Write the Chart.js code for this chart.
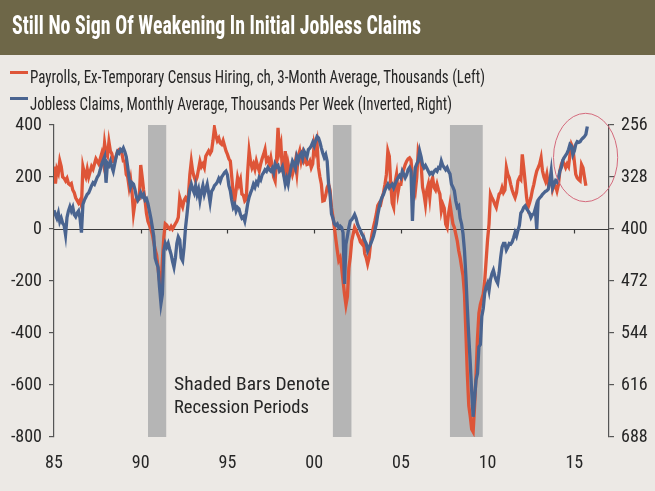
<!DOCTYPE html>
<html><head><meta charset="utf-8">
<script src="https://cdn.jsdelivr.net/npm/chart.js@4.4.1/dist/chart.umd.min.js"></script>
<style>
html,body{margin:0;padding:0;background:#ece9e5;width:655px;height:491px;overflow:hidden;}
body{position:relative;font-family:'Liberation Sans Narrow','Roboto Condensed','DejaVu Sans Condensed',Roboto,'Liberation Sans',sans-serif;color:#262626;}
#bar{position:absolute;left:0;top:0;width:655px;height:55px;background:#6e6748;}
.t{position:absolute;white-space:nowrap;line-height:1;transform-origin:0 50%;z-index:2;}
.mk{position:absolute;height:3px;z-index:2;}
canvas{position:absolute;left:0;top:0;z-index:1;}
</style></head>
<body>
<div id="bar"></div>
<canvas id="c" width="655" height="491"></canvas>
<div class="t" data-w="409" style="left:12px;top:13px;font-size:25px;font-weight:bold;color:#fff">Still No Sign Of Weakening In Initial Jobless Claims</div>
<div class="mk" style="left:10px;top:71px;width:18px;background:#de5538"></div>
<div class="t" data-w="455" style="left:30px;top:69px;font-size:17.5px">Payrolls, Ex-Temporary Census Hiring, ch, 3-Month Average, Thousands (Left)</div>
<div class="mk" style="left:10px;top:97px;width:18px;background:#4a6490"></div>
<div class="t" data-w="422" style="left:30px;top:95.5px;font-size:17.5px">Jobless Claims, Monthly Average, Thousands Per Week (Inverted, Right)</div>
<div class="t" data-w="156" style="left:174px;top:373.5px;font-size:19px">Shaded Bars Denote</div>
<div class="t" data-w="135" style="left:174px;top:396.5px;font-size:19px">Recession Periods</div>
<script>
const startYear = 1985;
const payrolls = [
240,175,230,215,262,240,200,195,185,195,175,170,
175,150,140,120,110,100,110,90,240,215,200,230,
200,220,240,230,250,270,260,250,270,290,260,330,
290,280,335,300,290,260,260,280,300,305,300,290,
261,260,210,200,160,190,140,61,100,120,110,115,
246,200,150,110,60,30,15,0,-20,-50,-80,-100,
-150,-200,-222,-120,-30,20,15,5,0,10,0,10,
20,30,45,120,100,85,110,120,110,130,210,260,
220,200,185,200,230,260,240,250,236,280,290,300,
290,300,340,389,360,340,350,330,325,340,320,300,
287,270,261,200,134,108,150,197,172,190,134,130,
108,115,220,300,260,236,250,230,261,240,223,250,
270,287,306,261,270,250,274,240,200,185,270,389,
300,325,230,210,300,200,250,220,236,210,230,260,
215,280,300,261,287,260,270,248,250,261,236,250,
325,300,330,236,200,172,108,110,130,160,172,150,
83,45,6,-40,-83,-121,-110,-146,-200,-250,-292,-260,
-150,-108,-45,-20,6,-5,-19,-32,-50,-57,-40,-95,
-110,-134,-110,-57,-20,6,30,57,90,100,95,121,
140,172,210,300,280,172,100,83,180,210,140,172,
172,210,230,248,261,270,274,265,200,170,146,200,
300,280,250,160,134,95,150,172,121,180,197,160,
150,172,150,134,70,95,80,19,6,60,95,57,
20,6,-20,-45,-83,-110,-146,-180,-250,-400,-560,-680,
-720,-770,-780,-680,-560,-420,-324,-290,-270,-250,-200,-120,
-40,20,134,120,110,95,83,110,134,140,159,140,
150,236,210,197,172,150,134,121,140,185,197,190,
287,236,180,121,83,100,121,150,172,200,223,236,
250,274,223,200,185,210,172,190,197,153,172,165,
146,170,223,248,261,250,236,250,240,287,325,312,
261,210,197,190,185,248,236,200,166];
const claims = [
374,380,385,378,390,385,392,395,408,384,375,369,
375,370,380,383,378,375,385,405,366,360,356,352,
350,345,340,336,338,333,328,325,318,310,305,300,
336,309,312,306,314,320,310,300,293,295,290,292,
288,293,300,314,330,342,336,338,345,355,360,356,
350,355,352,360,358,365,375,385,397,410,440,447,
453,480,503,490,430,420,425,420,428,435,445,453,
440,420,411,415,440,444,425,398,380,360,345,338,
345,350,340,352,345,360,348,340,352,345,338,350,
363,348,345,340,338,335,330,334,328,325,322,320,
325,340,347,360,370,366,375,370,372,380,385,383,
389,378,365,356,350,345,338,342,335,338,329,332,
325,322,318,320,315,318,320,316,322,310,314,312,
320,318,314,326,338,330,338,325,315,306,310,316,
300,306,298,295,302,292,296,300,290,288,285,280,
285,278,272,274,280,288,295,301,297,306,338,352,
379,385,393,395,393,398,396,398,405,476,421,410,
398,389,387,384,380,385,393,398,402,407,410,416,
420,430,425,421,416,410,402,393,380,370,361,356,
352,346,342,338,343,340,338,343,338,333,329,326,
329,320,324,329,325,318,315,320,389,340,315,310,
306,292,300,311,315,312,316,320,324,322,324,320,
318,320,315,316,306,312,315,318,315,320,324,338,
342,347,361,370,368,385,393,407,430,466,510,550,
585,625,660,635,609,600,563,560,521,510,489,480,
475,485,470,462,457,465,471,475,460,440,425,420,
420,429,425,420,421,418,412,405,410,402,395,378,
375,370,368,372,375,378,384,380,379,372,400,360,
357,355,352,350,348,347,345,335,320,343,338,333,
335,330,320,315,305,301,298,295,290,283,285,297,
292,283,279,280,279,276,274,272,269,258];
const recessionStart = [1990.42, 2001.08, 2007.83];
const recessionEnd = [1991.47, 2002.15, 2009.72];
const yearTicks = [1985,1990,1995,2000,2005,2010,2015];
const yearLabels = ['85','90','95','00','05','10','15'];
const leftTicks = [400,200,0,-200,-400,-600,-800];
const rightTicks = [256,328,400,472,544,616,688];
const highlight = {year:2015.65, value:275, yearRadius:1.85, valueRadius:170};

const FONT = "'Liberation Sans Narrow','Roboto Condensed','DejaVu Sans Condensed',Roboto,'Liberation Sans',sans-serif";
const TXT = '#262626';

const toXY = arr => arr.map((v,i)=>({x:startYear + i/12, y:v}));

const decor = {
  id:'decor',
  beforeDatasetsDraw(chart){
    const {ctx, chartArea:a} = chart;
    const x = chart.scales.x, y = chart.scales.y;
    ctx.save();
    ctx.fillStyle = '#b5b5b5';
    recessionStart.forEach((s,i)=>{
      const x0 = x.getPixelForValue(s), x1 = x.getPixelForValue(recessionEnd[i]);
      ctx.fillRect(x0, a.top, x1-x0, a.bottom-a.top);
    });
    const y0 = Math.round(y.getPixelForValue(0))+0.5;
    ctx.strokeStyle = '#3a3a3a'; ctx.lineWidth = 1.2;
    ctx.beginPath();
    ctx.moveTo(a.left, y0); ctx.lineTo(a.right, y0);
    yearTicks.forEach(v=>{
      if (v === startYear) return;
      const px = Math.round(x.getPixelForValue(v))+0.5;
      ctx.moveTo(px, y0); ctx.lineTo(px, y0+4);
    });
    ctx.stroke();
    ctx.restore();
  },
  afterDatasetsDraw(chart){
    const {ctx} = chart;
    const x = chart.scales.x, y = chart.scales.y;
    const cx = x.getPixelForValue(highlight.year), cy = y.getPixelForValue(highlight.value);
    const rx = Math.abs(x.getPixelForValue(highlight.year + highlight.yearRadius) - cx);
    const ry = Math.abs(y.getPixelForValue(highlight.value + highlight.valueRadius) - cy);
    ctx.save();
    ctx.strokeStyle = '#d46a7c'; ctx.lineWidth = 1;
    ctx.beginPath(); ctx.ellipse(cx, cy, rx, ry, 0, 0, Math.PI*2); ctx.stroke();
    ctx.restore();
  }
};

new Chart(document.getElementById('c'), {
  type:'line',
  data:{datasets:[
    {label:'Jobless Claims', data:toXY(claims), yAxisID:'y2', borderColor:'#4a6490', borderWidth:3.3, pointRadius:0, tension:0, fill:false},
    {label:'Payrolls', data:toXY(payrolls), yAxisID:'y', borderColor:'#de5538', borderWidth:3.3, pointRadius:0, tension:0, fill:false}
  ]},
  options:{
    responsive:false, animation:false, devicePixelRatio:1,
    layout:{padding:{top:125,left:0,right:0,bottom:0}},
    plugins:{legend:{display:false}, tooltip:{enabled:false}, title:{display:false}},
    scales:{
      x:{type:'linear', min:1985, max:2017,
        afterBuildTicks:s=>{s.ticks = yearTicks.map(v=>({value:v}));},
        afterFit:s=>{s.height = 54;},
        grid:{display:false, drawTicks:false}, border:{display:false},
        ticks:{padding:16, color:TXT, font:{family:FONT, size:18}, maxRotation:0, autoSkip:false,
          callback:v=>yearLabels[yearTicks.indexOf(v)]}},
      y:{position:'left', min:-800, max:400,
        afterBuildTicks:s=>{s.ticks = leftTicks.map(v=>({value:v}));},
        afterFit:s=>{s.width = 54;},
        grid:{drawOnChartArea:false, drawTicks:true, tickLength:5, color:'#555', lineWidth:1.2},
        border:{display:true, color:'#555', width:1.2},
        ticks:{padding:7, color:TXT, font:{family:FONT, size:18}}},
      y2:{position:'right', min:256, max:688, reverse:true,
        afterBuildTicks:s=>{s.ticks = rightTicks.map(v=>({value:v}));},
        afterFit:s=>{s.width = 46;},
        grid:{drawOnChartArea:false, drawTicks:true, tickLength:5, color:'#555', lineWidth:1.2},
        border:{display:true, color:'#555', width:1.2},
        ticks:{padding:7, color:TXT, font:{family:FONT, size:18}}}
    }
  },
  plugins:[decor]
});

document.querySelectorAll('.t').forEach(el=>{
  const target = parseFloat(el.dataset.w);
  const w = el.getBoundingClientRect().width;
  if (w > 0) el.style.transform = 'scaleX(' + (target/w) + ')';
});
</script>
</body></html>
